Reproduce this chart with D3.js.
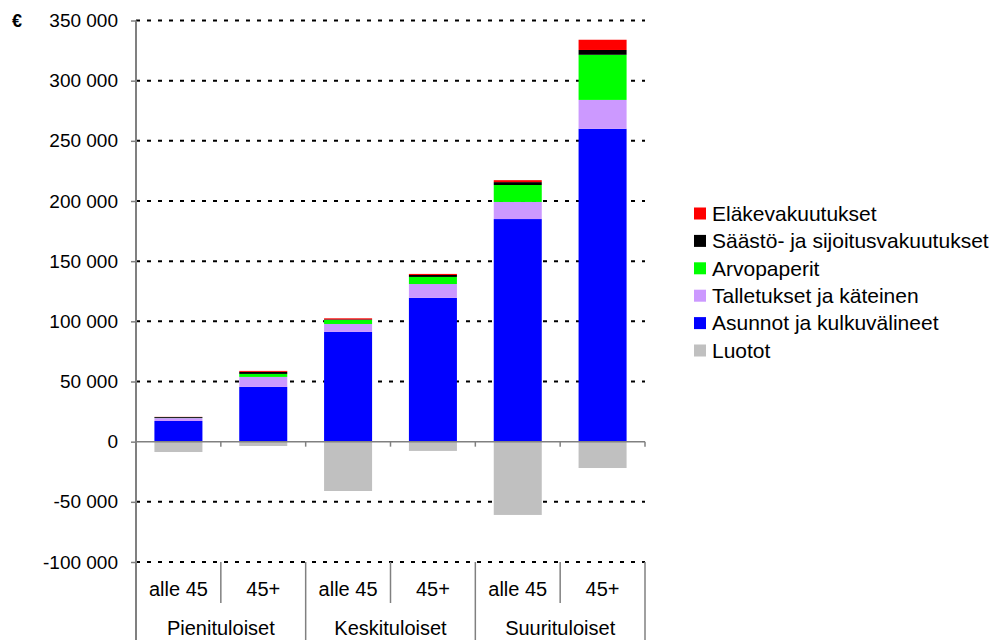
<!DOCTYPE html>
<html>
<head>
<meta charset="utf-8">
<script src="https://cdn.jsdelivr.net/npm/d3@7"></script>
<style>
  body { margin: 0; background: #fff; }
  text { font-family: "Liberation Sans", Arial, sans-serif; fill: #000; }
</style>
</head>
<body>
<div id="chart"></div>
<script>

// ---------------- data ----------------
var groups      = ["Pienituloiset", "Keskituloiset", "Suurituloiset"];
var subLabels   = ["alle 45", "45+"];
var categories  = ["P alle 45", "P 45+", "K alle 45", "K 45+", "S alle 45", "S 45+"];

var asunnot     = [17200, 45500, 91200, 119500, 185000, 260000];
var talletukset = [2400, 8300, 6600, 11500, 14200, 24000];
var arvopaperit = [200, 2500, 3300, 5900, 14100, 37500];
var saasto      = [700, 1700, 500, 1600, 2400, 4000];
var elake       = [100, 800, 900, 900, 1600, 8500];
var luotot      = [-8600, -3600, -41000, -7700, -60900, -21900];

var yTicks = [-100000, -50000, 0, 50000, 100000, 150000, 200000, 250000, 300000, 350000];

// stacking order bottom -> top, legend is shown top -> bottom
var seriesNames  = ["Asunnot ja kulkuvälineet", "Talletukset ja käteinen", "Arvopaperit",
                    "Säästö- ja sijoitusvakuutukset", "Eläkevakuutukset"];
var seriesValues = [asunnot, talletukset, arvopaperit, saasto, elake];
var seriesColors = ["#0000ff", "#cc99ff", "#00ff00", "#000000", "#ff0000"];
var loanName  = "Luotot";
var loanColor = "#c0c0c0";

// ---------------- sizes ----------------
var margin = {top: 20.5, right: 348, bottom: 78, left: 136},
    width  = 993 - margin.left - margin.right,
    height = 640 - margin.top - margin.bottom;

var fi = d3.formatLocale({decimal: ",", thousands: " ", grouping: [3], currency: ["", " €"], minus: "-"});
var fmt = fi.format(",");

var svg = d3.select("#chart")
    .append("svg")
        .attr("width", width + margin.left + margin.right)
        .attr("height", height + margin.top + margin.bottom)
    .append("g")
        .attr("transform", "translate(" + margin.left + "," + margin.top + ")");

var x = d3.scaleBand().domain(categories).range([0, width]).padding(0);
var y = d3.scaleLinear().domain([-100000, 350000]).range([height, 0]);
var barW = x.bandwidth() * 0.566;

// ---------------- grid lines (dashed) ----------------
svg.append("g")
    .attr("class", "grid")
    .selectAll("line")
    .data(yTicks.filter(function(d) { return d !== 0; }))
    .enter().append("line")
        .attr("x1", 0)
        .attr("x2", width)
        .attr("y1", function(d) { return y(d); })
        .attr("y2", function(d) { return y(d); })
        .style("stroke", "#000")
        .style("stroke-width", 2)
        .style("stroke-dasharray", "4,7");

// ---------------- stacked bars ----------------
categories.forEach(function(c, i) {
    var base = 0;
    seriesValues.forEach(function(vals, k) {
        var v = vals[i];
        svg.append("rect")
            .attr("x", x(c) + (x.bandwidth() - barW) / 2)
            .attr("width", barW)
            .attr("y", y(base + v))
            .attr("height", y(base) - y(base + v))
            .style("fill", seriesColors[k]);
        base += v;
    });
    // loans go below zero
    svg.append("rect")
        .attr("x", x(c) + (x.bandwidth() - barW) / 2)
        .attr("width", barW)
        .attr("y", y(0))
        .attr("height", y(luotot[i]) - y(0))
        .style("fill", loanColor);
});

// ---------------- y axis ----------------
var yAxis = svg.append("g")
    .attr("class", "y axis")
    .call(d3.axisLeft(y).tickValues(yTicks).tickSize(5).tickPadding(13).tickFormat(fmt));
yAxis.select(".domain").remove();
yAxis.selectAll(".tick line").style("stroke", "#808080").style("stroke-width", 1.5);
yAxis.selectAll("text").style("font-size", "19px").style("font-family", "Liberation Sans, Arial, sans-serif");

svg.append("line")
    .attr("x1", 0).attr("x2", 0)
    .attr("y1", y(350000)).attr("y2", height + margin.bottom)
    .style("stroke", "#808080").style("stroke-width", 2);

svg.append("text")
    .attr("x", -124)
    .attr("y", y(350000))
    .attr("dy", "0.35em")
    .style("font-size", "18px")
    .style("font-weight", "bold")
    .text("€");

// ---------------- zero line with ticks ----------------
svg.append("line")
    .attr("x1", 0).attr("x2", width)
    .attr("y1", y(0)).attr("y2", y(0))
    .style("stroke", "#808080").style("stroke-width", 1.5);

categories.forEach(function(c) {
    svg.append("line")
        .attr("x1", x(c) + x.bandwidth()).attr("x2", x(c) + x.bandwidth())
        .attr("y1", y(0)).attr("y2", y(0) + 5)
        .style("stroke", "#808080").style("stroke-width", 1.5);
});

// ---------------- category labels (two levels) ----------------
categories.forEach(function(c, i) {
    var xr = x(c) + x.bandwidth();
    var isGroupEnd = (i % 2 === 1);
    svg.append("line")
        .attr("x1", xr).attr("x2", xr)
        .attr("y1", height)
        .attr("y2", isGroupEnd ? height + margin.bottom : height + 41)
        .style("stroke", "#808080").style("stroke-width", 1.5);

    svg.append("text")
        .attr("x", x(c) + x.bandwidth() / 2)
        .attr("y", height + 27)
        .attr("dy", "0.35em")
        .style("text-anchor", "middle")
        .style("font-size", "20px")
        .text(subLabels[i % 2]);
});

groups.forEach(function(g, j) {
    var c0 = categories[j * 2];
    svg.append("text")
        .attr("x", x(c0) + x.bandwidth())
        .attr("y", height + 66)
        .attr("dy", "0.35em")
        .style("text-anchor", "middle")
        .style("font-size", "20px")
        .text(g);
});

// ---------------- legend ----------------
var legendNames  = seriesNames.slice().reverse().concat([loanName]);
var legendColors = seriesColors.slice().reverse().concat([loanColor]);

var legend = svg.append("g")
    .attr("class", "legend")
    .attr("transform", "translate(" + (width + 49) + "," + (213.5 - margin.top) + ")");

legendNames.forEach(function(n, i) {
    var row = legend.append("g").attr("transform", "translate(0," + (i * 27.4) + ")");
    row.append("rect")
        .attr("x", 0).attr("y", -6)
        .attr("width", 12).attr("height", 12)
        .style("fill", legendColors[i]);
    row.append("text")
        .attr("x", 18)
        .attr("y", 0)
        .attr("dy", "0.35em")
        .style("font-size", "21px")
        .text(n);
});

</script>
</body>
</html>
